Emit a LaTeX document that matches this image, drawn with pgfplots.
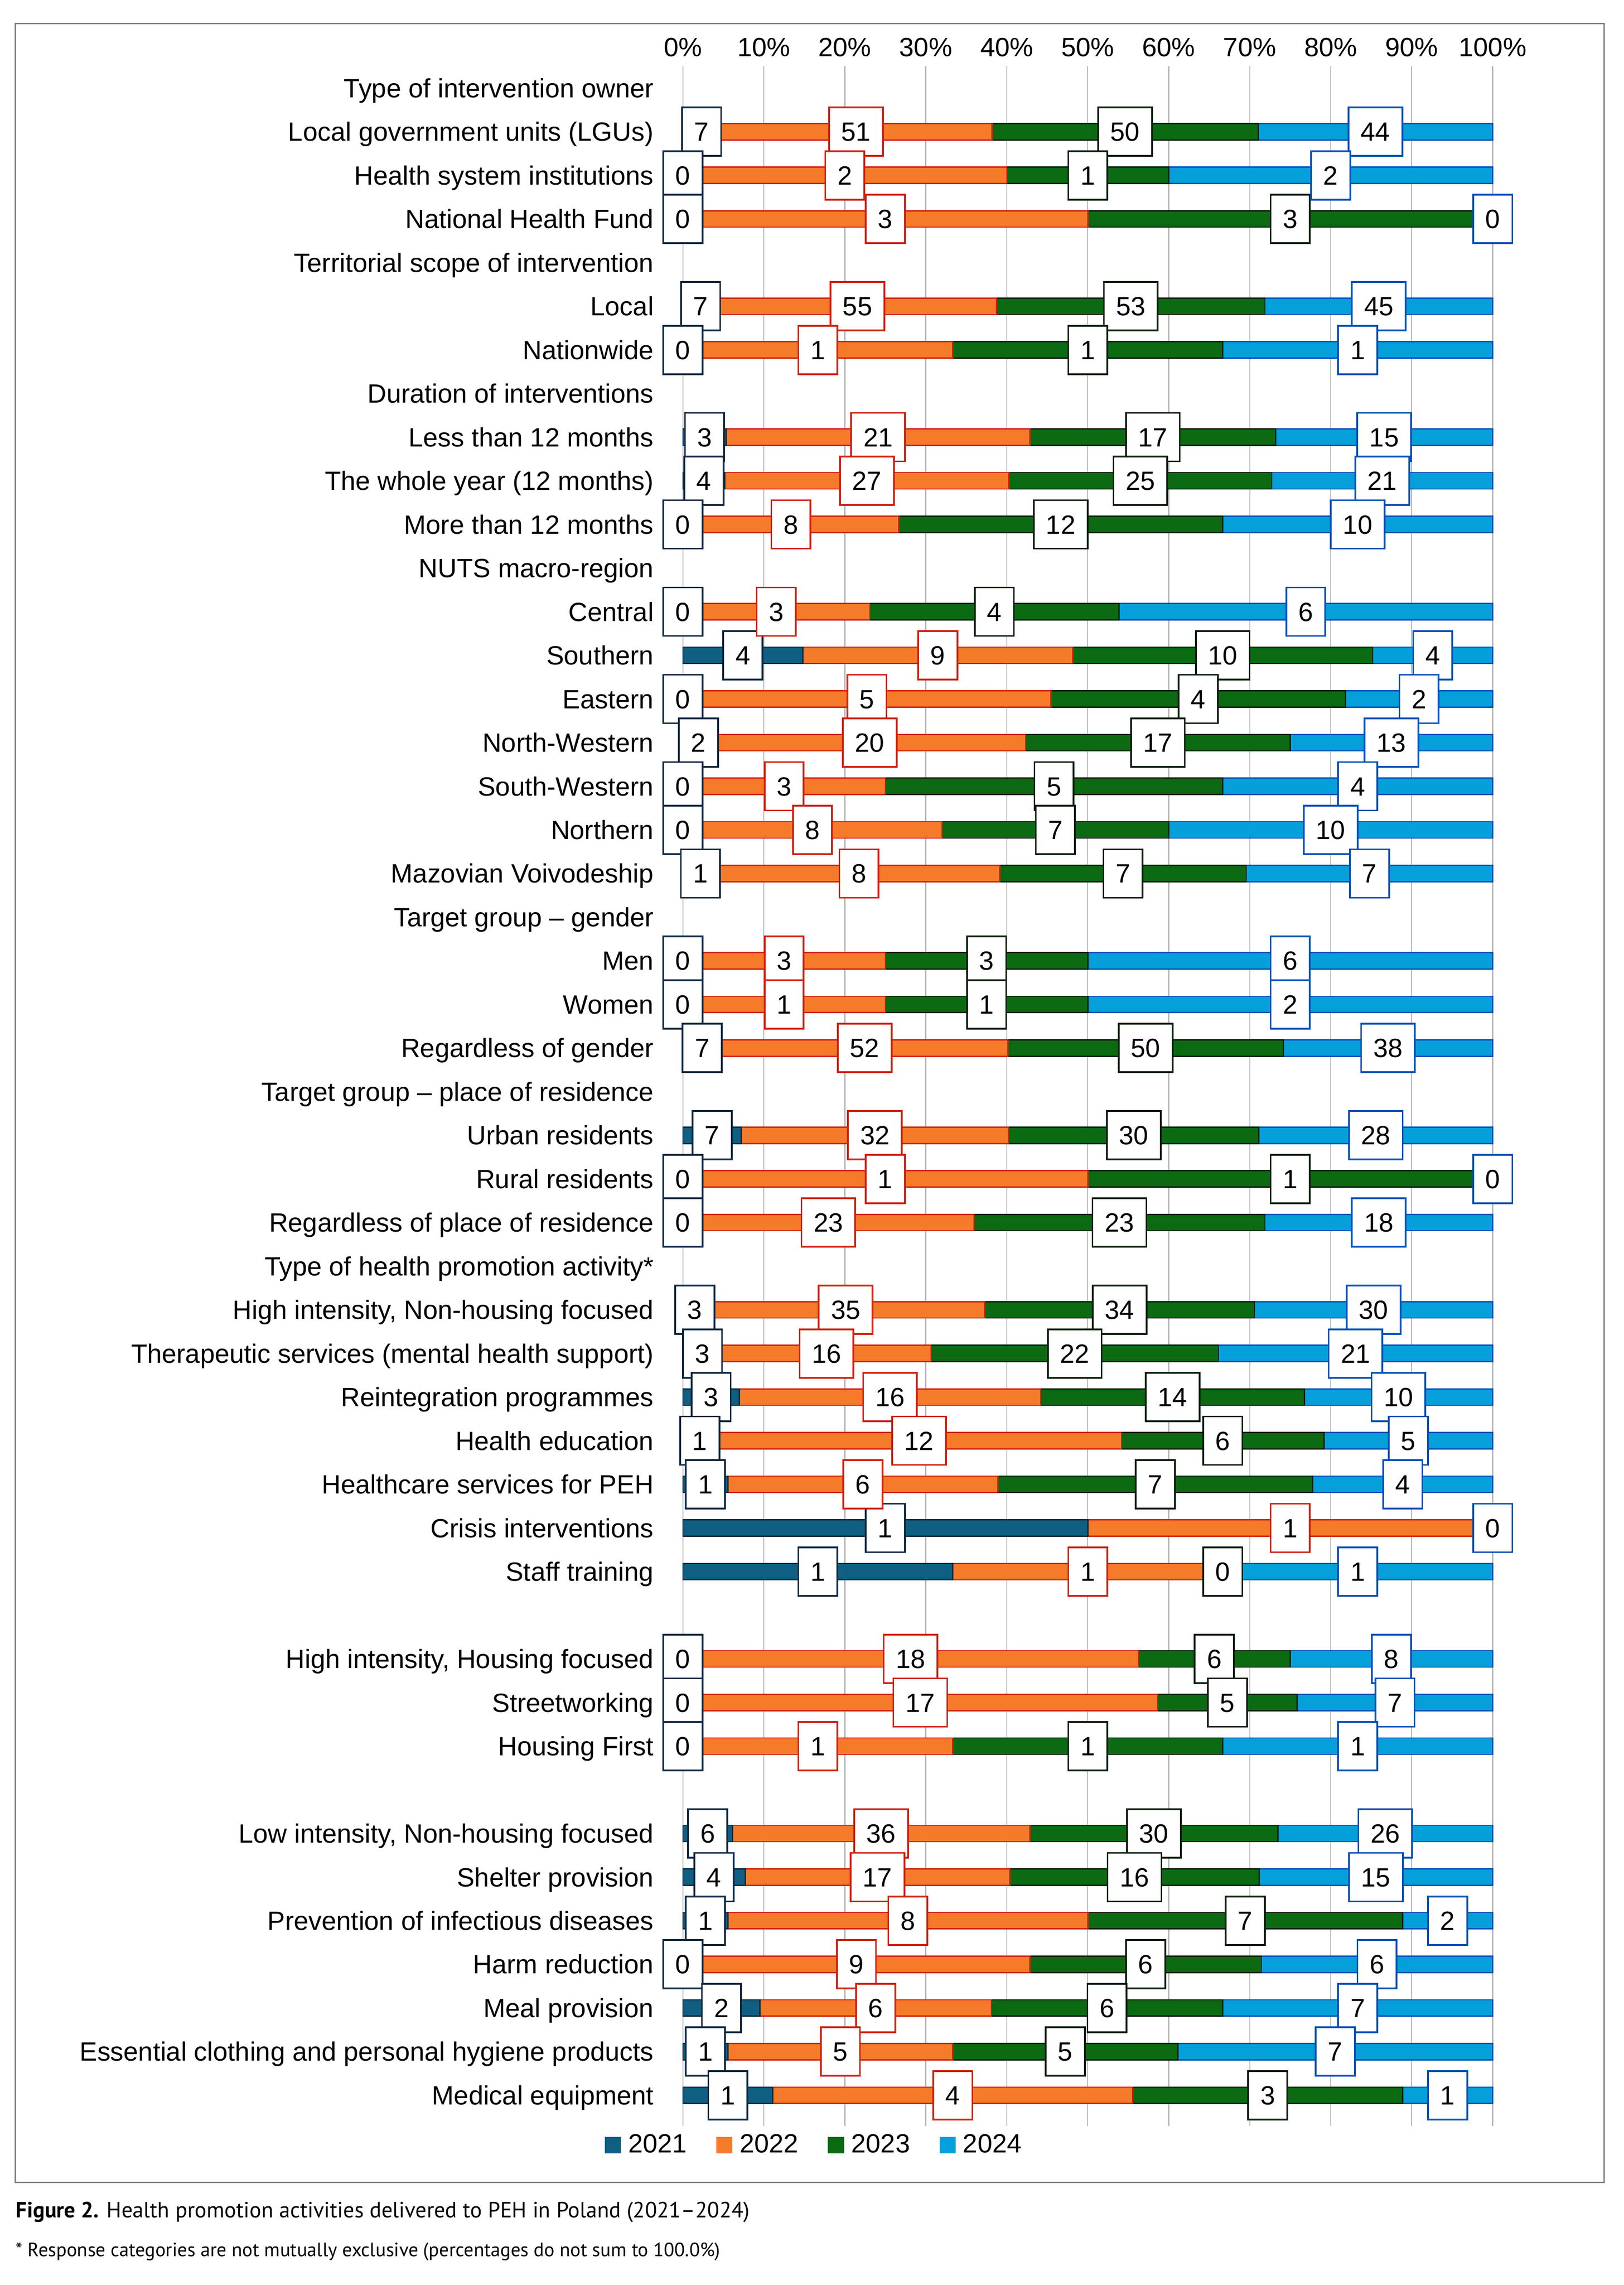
\documentclass[border=0pt]{standalone}
\usepackage{fontspec}
\setmainfont{Liberation Sans}
\newfontfamily\capfont{PT Sans}
\usepackage{pgfplots}
\usepackage{pgfplotstable}
\pgfplotsset{compat=1.18}

\definecolor{c21}{HTML}{0F5F82}
\definecolor{c22}{HTML}{F57A2A}
\definecolor{c23}{HTML}{0B6A12}
\definecolor{c24}{HTML}{05A0DA}
\definecolor{e21}{HTML}{0E2841}
\definecolor{e22}{HTML}{D0200E}
\definecolor{e23}{HTML}{0A1E0A}
\definecolor{e24}{HTML}{0050B8}
\definecolor{gridc}{HTML}{B4B4B4}

\newcommand\cf{\fontsize{10.8}{12}\selectfont}

% y: row position (47 = top row); pN: share in %; nN: count shown in the box
\pgfplotstableread{
y p1 n1 p2 n2 p3 n3 p4 n4
46 4.605 7 33.553 51 32.895 50 28.947 44
45 0 0 40 2 20 1 40 2
44 0 0 50 3 50 3 0 0
42 4.375 7 34.375 55 33.125 53 28.125 45
41 0 0 33.333 1 33.333 1 33.334 1
39 5.357 3 37.5 21 30.357 17 26.786 15
38 5.195 4 35.065 27 32.468 25 27.272 21
37 0 0 26.667 8 40 12 33.333 10
35 0 0 23.077 3 30.769 4 46.154 6
34 14.815 4 33.333 9 37.037 10 14.815 4
33 0 0 45.455 5 36.364 4 18.181 2
32 3.846 2 38.462 20 32.692 17 25 13
31 0 0 25 3 41.667 5 33.333 4
30 0 0 32 8 28 7 40 10
29 4.348 1 34.783 8 30.435 7 30.434 7
27 0 0 25 3 25 3 50 6
26 0 0 25 1 25 1 50 2
25 4.762 7 35.374 52 34.014 50 25.85 38
23 7.216 7 32.99 32 30.928 30 28.866 28
22 0 0 50 1 50 1 0 0
21 0 0 35.938 23 35.937 23 28.125 18
19 2.941 3 34.314 35 33.333 34 29.412 30
18 4.839 3 25.806 16 35.484 22 33.871 21
17 6.977 3 37.209 16 32.558 14 23.256 10
16 4.167 1 50 12 25 6 20.833 5
15 5.556 1 33.333 6 38.889 7 22.222 4
14 50 1 50 1 0 0 0 0
13 33.333 1 33.333 1 0 0 33.334 1
11 0 0 56.25 18 18.75 6 25 8
10 0 0 58.621 17 17.241 5 24.138 7
9 0 0 33.333 1 33.333 1 33.334 1
7 6.122 6 36.735 36 30.612 30 26.531 26
6 7.692 4 32.692 17 30.769 16 28.847 15
5 5.556 1 44.444 8 38.889 7 11.111 2
4 0 0 42.857 9 28.571 6 28.572 6
3 9.524 2 28.571 6 28.571 6 33.334 7
2 5.556 1 27.778 5 27.778 5 38.888 7
1 11.111 1 44.444 4 33.333 3 11.112 1
}\data

% label positions: middle of each segment (in %), with the count
\pgfplotstableread{
y c1 n1 c2 n2 c3 n3 c4 n4
46 2.303 7 21.382 51 54.606 50 85.527 44
45 0 0 20 2 50 1 80 2
44 0 0 25 3 75 3 100 0
42 2.188 7 21.563 55 55.313 53 85.938 45
41 0 0 16.667 1 50 1 83.333 1
39 2.679 3 24.107 21 58.036 17 86.607 15
38 2.598 4 22.728 27 56.494 25 86.364 21
37 0 0 13.333 8 46.667 12 83.333 10
35 0 0 11.538 3 38.462 4 76.923 6
34 7.407 4 31.482 9 66.667 10 92.593 4
33 0 0 22.727 5 63.637 4 90.909 2
32 1.923 2 23.077 20 58.654 17 87.5 13
31 0 0 12.5 3 45.833 5 83.333 4
30 0 0 16 8 46 7 80 10
29 2.174 1 21.739 8 54.348 7 84.783 7
27 0 0 12.5 3 37.5 3 75 6
26 0 0 12.5 1 37.5 1 75 2
25 2.381 7 22.449 52 57.143 50 87.075 38
23 3.608 7 23.711 32 55.67 30 85.567 28
22 0 0 25 1 75 1 100 0
21 0 0 17.969 23 53.907 23 85.938 18
19 1.471 3 20.098 35 53.922 34 85.294 30
18 2.42 3 17.742 16 48.387 22 83.065 21
17 3.489 3 25.582 16 60.465 14 88.372 10
16 2.084 1 29.167 12 66.667 6 89.584 5
15 2.778 1 22.223 6 58.334 7 88.889 4
14 25 1 75 1 100 0 100 0
13 16.667 1 50 1 66.666 0 83.333 1
11 0 0 28.125 18 65.625 6 87.5 8
10 0 0 29.311 17 67.242 5 87.931 7
9 0 0 16.667 1 50 1 83.333 1
7 3.061 6 24.49 36 58.163 30 86.735 26
6 3.846 4 24.038 17 55.769 16 85.577 15
5 2.778 1 27.778 8 69.445 7 94.445 2
4 0 0 21.429 9 57.143 6 85.714 6
3 4.762 2 23.81 6 52.381 6 83.333 7
2 2.778 1 19.445 5 47.223 5 80.556 7
1 5.556 1 33.333 4 72.222 3 94.444 1
}\labels

\pgfplotsset{
  base/.style={
    scale only axis, width=331.2pt, height=842pt,
    at={(279.3pt,-869.1pt)}, anchor=south west,
    xmin=0, xmax=100, ymin=0.3, ymax=47.5, clip=false,
  },
  sq/.style={legend image code/.code={
    \draw[fill=#1, draw=#1, line width=0.4pt] (0pt,-3.2pt) rectangle (6.2pt,3.2pt);}},
  lab/.style={draw=none, mark=none, every node near coord/.append style={draw=#1}},
}

\begin{document}
\begin{tikzpicture}
\path[use as bounding box] (0,0) rectangle (664.2pt,-934.2pt);
\draw[color=gray, line width=0.6pt] (6.3pt,-9.65pt) rectangle (656.1pt,-892.3pt);

\begin{axis}[base, xbar stacked, bar width=6.7pt,
  axis line style={draw=none}, tick style={draw=none}, major tick length=0pt,
  xtick={0,10,20,30,40,50,60,70,80,90,100},
  xticklabels={0\%,10\%,20\%,30\%,40\%,50\%,60\%,70\%,80\%,90\%,100\%},
  xticklabel pos=right,
  xmajorgrids, grid style={line width=0.45pt, color=gridc},
  ytick={1,...,47},
  yticklabels={Medical equipment,
    Essential clothing and personal hygiene products,
    Meal provision, Harm reduction, Prevention of infectious diseases,
    Shelter provision, {Low intensity, Non-housing focused}, {},
    Housing First, Streetworking, {High intensity, Housing focused}, {},
    Staff training, Crisis interventions, Healthcare services for PEH,
    Health education, Reintegration programmes,
    Therapeutic services (mental health support),
    {High intensity, Non-housing focused}, Type of health promotion activity*,
    Regardless of place of residence, Rural residents, Urban residents,
    Target group -- place of residence, Regardless of gender, Women, Men,
    Target group -- gender, Mazovian Voivodeship, Northern, South-Western,
    North-Western, Eastern, Southern, Central, NUTS macro-region,
    More than 12 months, The whole year (12 months), Less than 12 months,
    Duration of interventions, Nationwide, Local,
    Territorial scope of intervention, National Health Fund,
    Health system institutions, Local government units (LGUs),
    Type of intervention owner},
  ticklabel style={font=\cf},
  xticklabel style={anchor=south, inner sep=0pt, yshift=3.9pt, text depth=0pt},
  yticklabel style={anchor=east, inner sep=0pt, xshift=-11.75pt, text height=7.7pt, text depth=0pt},
  legend style={at={(0.164,-0.0094)}, anchor=center, draw=none, fill=none,
    font=\cf, legend columns=4, inner sep=0pt,
    /tikz/every even column/.append style={column sep=10pt},
    /tikz/every odd column/.append style={column sep=1pt}},
]
\addplot[fill=c21, draw=e21, line width=0.5pt, sq=c21] table[y=y, x=p1]{\data};
\addplot[fill=c22, draw=e22, line width=0.5pt, sq=c22] table[y=y, x=p2]{\data};
\addplot[fill=c23, draw=e23, line width=0.5pt, sq=c23] table[y=y, x=p3]{\data};
\addplot[fill=c24, draw=e24, line width=0.5pt, sq=c24] table[y=y, x=p4]{\data};
\legend{2021,2022,2023,2024}
\end{axis}

\begin{axis}[base, hide axis,
  nodes near coords, point meta=explicit, nodes near coords align={center},
  /pgf/number format/assume math mode=true,
  every node near coord/.append style={font=\cf, fill=white, line width=0.7pt,
    anchor=center, inner xsep=5pt, inner ysep=0pt, minimum height=19.8pt,
    text height=7.7pt, text depth=0pt},
]
\addplot[lab=e21] table[y=y, x=c1, meta=n1]{\labels};
\addplot[lab=e22] table[y=y, x=c2, meta=n2]{\labels};
\addplot[lab=e23] table[y=y, x=c3, meta=n3]{\labels};
\addplot[lab=e24] table[y=y, x=c4, meta=n4]{\labels};
\end{axis}

\node[anchor=base west, inner sep=0pt, font=\capfont\fontsize{9}{10}\selectfont]
  at (6.3pt,-906.7pt) {\textbf{Figure 2.} Health promotion activities delivered to PEH in Poland (2021–2024)};
\node[anchor=base west, inner sep=0pt, font=\capfont\fontsize{7.9}{9}\selectfont]
  at (6.3pt,-922.6pt) {* Response categories are not mutually exclusive (percentages do not sum to 100.0\%)};
\end{tikzpicture}
\end{document}
